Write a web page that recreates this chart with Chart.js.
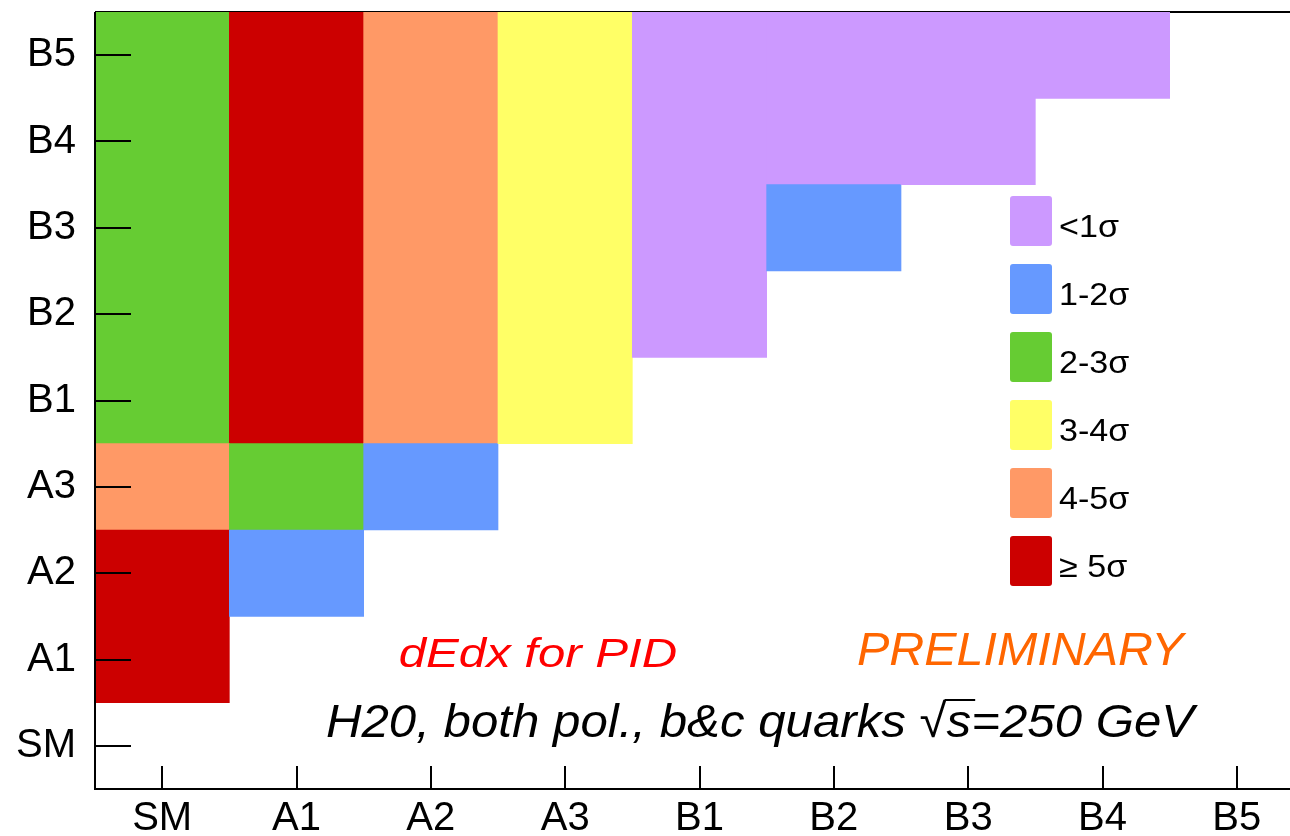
<!DOCTYPE html>
<html>
<head>
<meta charset="utf-8">
<script src="https://cdn.jsdelivr.net/npm/chart.js@4.4.1/dist/chart.umd.min.js"></script>
<style>
  html, body { margin: 0; padding: 0; background: #fff; overflow: hidden; }
  #wrap { width: 1320px; height: 836px; }
</style>
</head>
<body>
<div id="wrap"><canvas id="sigChart" width="1320" height="836"></canvas></div>
<script>
const categories = ['SM', 'A1', 'A2', 'A3', 'B1', 'B2', 'B3', 'B4', 'B5'];
const levelLabels = ['<1σ', '1-2σ', '2-3σ', '3-4σ', '4-5σ', '≥ 5σ'];
const levelColors = ['#CC99FF', '#6699FF', '#66CC33', '#FFFF66', '#FF9966', '#CC0000'];

// significance level (index into levelLabels) per cell, one array per x category,
// indexed by y category; null = no entry
const sigSM = [null, 5, 5, 4, 2, 2, 2, 2, 2];
const sigA1 = [null, null, 1, 2, 5, 5, 5, 5, 5];
const sigA2 = [null, null, null, 1, 4, 4, 4, 4, 4];
const sigA3 = [null, null, null, null, 3, 3, 3, 3, 3];
const sigB1 = [null, null, null, null, null, 0, 0, 0, 0];
const sigB2 = [null, null, null, null, null, null, 1, 0, 0];
const sigB3 = [null, null, null, null, null, null, null, 0, 0];
const sigB4 = [null, null, null, null, null, null, null, null, 0];
const sigB5 = [null, null, null, null, null, null, null, null, null];
const significance = [sigSM, sigA1, sigA2, sigA3, sigB1, sigB2, sigB3, sigB4, sigB5];

const FONT = "'Liberation Sans', Arial, Helvetica, sans-serif";

// merge neighbouring cells of the same level into one floating bar per column
const runs = significance.map(col => {
    const out = [];
    col.forEach((lvl, row) => {
        if (lvl === null) return;
        const last = out[out.length - 1];
        if (last && last.level === lvl && last.to === row - 1) last.to = row;
        else out.push({ level: lvl, from: row, to: row });
    });
    return out;
});

const nSlots = Math.max(...runs.map(r => r.length));
const datasets = [];
for (let k = 0; k < nSlots; k++) {
    datasets.push({
        data: runs.map(r => r[k] ? [r[k].from - 0.5, r[k].to + 0.5] : null),
        backgroundColor: runs.map(r => r[k] ? levelColors[r[k].level] : 'rgba(0,0,0,0)'),
        borderWidth: 0,
        grouped: false,
        barPercentage: 1,
        categoryPercentage: 1
    });
}

// draw text stretched horizontally so its ink spans the given width
function fitText(ctx, text, x, y, width, font, color) {
    ctx.save();
    ctx.font = font;
    ctx.fillStyle = color;
    ctx.textBaseline = 'alphabetic';
    ctx.textAlign = 'left';
    const m = ctx.measureText(text);
    const ink = m.actualBoundingBoxLeft + m.actualBoundingBoxRight;
    const sx = width / ink;
    ctx.translate(x + m.actualBoundingBoxLeft * sx, y);
    ctx.scale(sx, 1);
    ctx.fillText(text, 0, 0);
    ctx.restore();
    return sx;
}

const framePlugin = {
    id: 'frame',
    beforeDatasetsDraw(chart) {
        const { ctx, chartArea } = chart;
        ctx.save();
        ctx.strokeStyle = '#000';
        ctx.lineWidth = 2;
        ctx.beginPath();
        ctx.moveTo(chartArea.left, chartArea.top);
        ctx.lineTo(chart.width, chartArea.top);
        ctx.stroke();
        ctx.restore();
    },
    afterDatasetsDraw(chart) {
        const { ctx, chartArea, scales } = chart;
        ctx.save();
        ctx.strokeStyle = '#000';
        ctx.lineWidth = 2;

        // axis lines
        ctx.beginPath();
        ctx.moveTo(chartArea.left, chartArea.top);
        ctx.lineTo(chartArea.left, chartArea.bottom);
        ctx.lineTo(chart.width, chartArea.bottom);
        ctx.stroke();

        // inward ticks
        ctx.beginPath();
        categories.forEach((c, i) => {
            const py = Math.round(scales.y.getPixelForValue(i));
            ctx.moveTo(chartArea.left, py);
            ctx.lineTo(chartArea.left + 36, py);
            const px = Math.round(scales.x.getPixelForValue(i));
            ctx.moveTo(px, chartArea.bottom);
            ctx.lineTo(px, chartArea.bottom - 23);
        });
        ctx.stroke();

        // legend
        levelLabels.forEach((lab, i) => {
            const top = 196 + i * 68;
            ctx.fillStyle = levelColors[i];
            ctx.beginPath();
            ctx.roundRect(1010, top, 42, 50, 3);
            ctx.fill();
            ctx.save();
            ctx.font = '31px ' + FONT;
            ctx.fillStyle = '#000';
            ctx.translate(1059, top + 25 + 16);
            ctx.scale(1.1, 1);
            ctx.fillText(lab, 0, 0);
            ctx.restore();
        });

        // labels on the plot
        fitText(ctx, 'dEdx for PID', 400, 667, 276, 'italic 40px ' + FONT, '#FF0000');
        fitText(ctx, 'PRELIMINARY', 858, 665, 329, 'italic 46px ' + FONT, '#FF6600');

        const line = 'H20, both pol., b&c quarks √s=250 GeV';
        const bottomFont = 'italic 47px ' + FONT;
        const sx = fitText(ctx, line, 327, 737, 871, bottomFont, '#000');
        ctx.font = bottomFont;
        const m0 = ctx.measureText(line);
        const pre = ctx.measureText('H20, both pol., b&c quarks √').width;
        const sW = ctx.measureText('s').width;
        const root = ctx.measureText('√');
        const x0 = 327 + m0.actualBoundingBoxLeft * sx;
        ctx.lineWidth = 2;
        ctx.beginPath();
        ctx.moveTo(x0 + pre * sx - 2, 737 - root.actualBoundingBoxAscent + 1);
        ctx.lineTo(x0 + (pre + sW) * sx + 4, 737 - root.actualBoundingBoxAscent + 1);
        ctx.stroke();

        ctx.restore();
    }
};

new Chart(document.getElementById('sigChart'), {
    type: 'bar',
    data: { labels: categories, datasets: datasets },
    options: {
        responsive: false,
        animation: false,
        layout: { autoPadding: false, padding: { top: 12, right: 16, left: 0, bottom: 0 } },
        plugins: { legend: { display: false }, tooltip: { enabled: false } },
        scales: {
            x: {
                type: 'category',
                offset: true,
                grid: { display: false, drawTicks: false },
                border: { display: false },
                ticks: { color: '#000', font: { family: FONT, size: 40 }, padding: 6, maxRotation: 0, autoSkip: false },
                afterFit: s => { s.height = 47; s.paddingLeft = 0; s.paddingRight = 0; }
            },
            y: {
                type: 'linear',
                min: -0.5,
                max: 8.5,
                afterBuildTicks: s => { s.ticks = categories.map((c, i) => ({ value: i })); },
                grid: { display: false, drawTicks: false },
                border: { display: false },
                ticks: { color: '#000', font: { family: FONT, size: 40 }, padding: 19, callback: v => categories[v] },
                afterFit: s => { s.width = 95; s.paddingTop = 0; s.paddingBottom = 0; }
            }
        }
    },
    plugins: [framePlugin]
});
</script>
</body>
</html>
